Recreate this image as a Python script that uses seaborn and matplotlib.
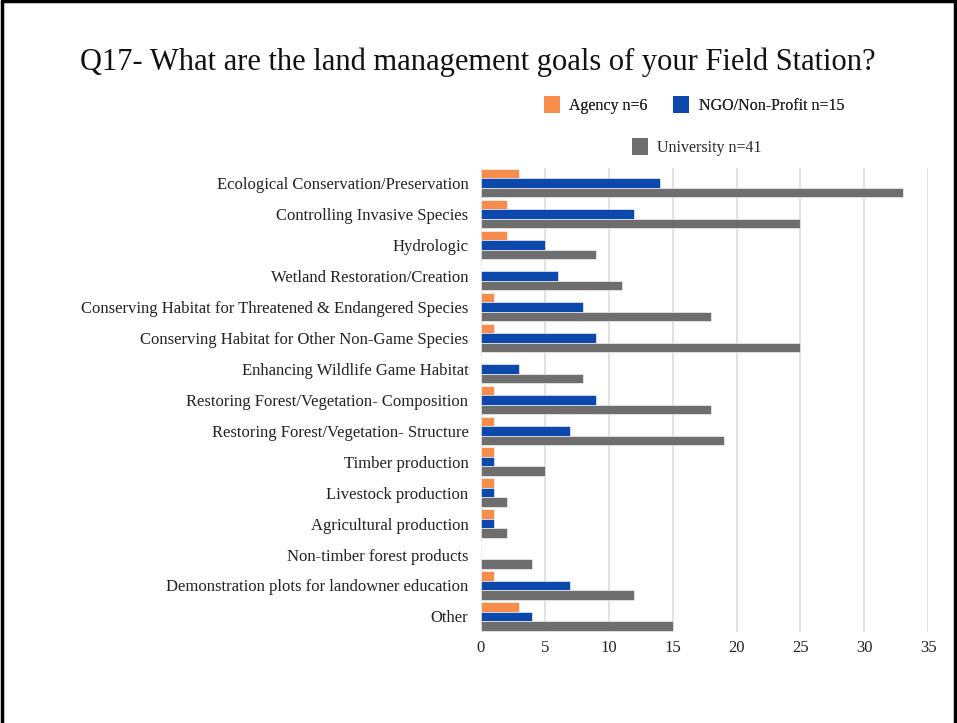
import matplotlib
matplotlib.use("Agg")
import matplotlib.pyplot as plt
from matplotlib.lines import Line2D
from matplotlib.patches import Patch
import pandas as pd
import seaborn as sns

categories = [
    "Ecological Conservation/Preservation",
    "Controlling Invasive Species",
    "Hydrologic",
    "Wetland Restoration/Creation",
    "Conserving Habitat for Threatened & Endangered Species",
    "Conserving Habitat for Other Non-Game Species",
    "Enhancing Wildlife Game Habitat",
    "Restoring Forest/Vegetation- Composition",
    "Restoring Forest/Vegetation- Structure",
    "Timber production",
    "Livestock production",
    "Agricultural production",
    "Non-timber forest products",
    "Demonstration plots for landowner education",
    "Other",
]
series_names = ["Agency n=6", "NGO/Non-Profit n=15", "University n=41"]
agency = [3, 2, 2, 0, 1, 1, 0, 1, 1, 1, 1, 1, 0, 1, 3]
ngo = [14, 12, 5, 6, 8, 9, 3, 9, 7, 1, 1, 1, 0, 7, 4]
university = [33, 25, 9, 11, 18, 25, 8, 18, 19, 5, 2, 2, 4, 12, 15]
x_ticks = [0, 5, 10, 15, 20, 25, 30, 35]

colors = ["#f68d4c", "#0d49ad", "#6e6e6e"]

rows = []
for name, vals in zip(series_names, [agency, ngo, university]):
    for cat, v in zip(categories, vals):
        rows.append({"goal": cat, "group": name, "count": v})
df = pd.DataFrame(rows)

sns.set_theme(style="white")
plt.rcParams["font.family"] = ["Liberation Serif", "DejaVu Serif"]

fig = plt.figure(figsize=(9.57, 7.23), dpi=100)
ax = fig.add_axes([0.5026, 0.126, 0.4674, 0.642])

sns.barplot(data=df, y="goal", x="count", hue="group", order=categories,
            hue_order=series_names, palette=colors, orient="h",
            width=0.92, dodge=True, errorbar=None, ax=ax, legend=False,
            saturation=1, edgecolor="white", linewidth=0.4)

ax.set_xlim(0, 35)
ax.set_xticks(x_ticks)
ax.set_xticklabels([str(t) for t in x_ticks], fontsize=12, color="#222222")
ax.tick_params(axis="y", labelsize=12, colors="#222222", length=0, pad=9)
ax.tick_params(axis="x", length=0, pad=6)
ax.set_xlabel("")
ax.set_ylabel("")
for s in ax.spines.values():
    s.set_visible(False)
ax.xaxis.grid(True, color="#dcdcdc", linewidth=1.2)
ax.set_axisbelow(True)

fig.text(0.499, 0.914, "Q17- What are the land management goals of your Field Station?",
         ha="center", va="center", fontsize=22, color="#111111")

handles = [Patch(facecolor=c, edgecolor="none") for c in colors]
leg1 = fig.legend(handles[:2], series_names[:2], ncol=2, loc="center",
                  bbox_to_anchor=(0.725, 0.855), frameon=False, fontsize=11.5,
                  handlelength=1.0, handleheight=1.3, columnspacing=1.6,
                  handletextpad=0.6)
fig.add_artist(leg1)
fig.legend(handles[2:], series_names[2:], loc="center",
           bbox_to_anchor=(0.728, 0.797), frameon=False, fontsize=11.5,
           handlelength=1.0, handleheight=1.3, handletextpad=0.6)

# page frame (left, top, right)
frame_kw = dict(color="black", linewidth=2.5, transform=fig.transFigure)
fig.add_artist(Line2D([0.002, 0.002], [0, 0.998], **frame_kw))
fig.add_artist(Line2D([0.002, 0.998], [0.998, 0.998], **frame_kw))
fig.add_artist(Line2D([0.998, 0.998], [0, 0.998], **frame_kw))

fig.savefig("out.png", dpi=100)
